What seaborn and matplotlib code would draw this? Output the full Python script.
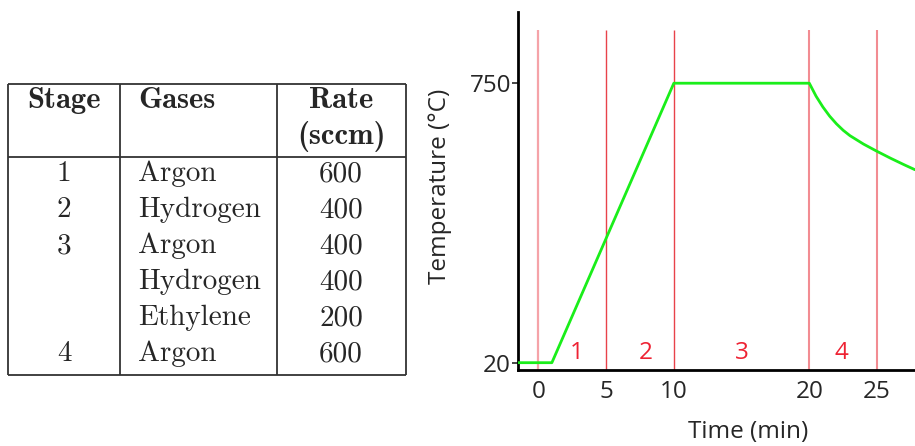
import matplotlib
matplotlib.use("Agg")
import matplotlib.pyplot as plt
import seaborn as sns
import pandas as pd

# ---------------- data ----------------
stage_col = ["1", "2", "3", "", "", "4"]
gas_col = ["Argon", "Hydrogen", "Argon", "Hydrogen", "Ethylene", "Argon"]
rate_col = ["600", "400", "400", "400", "200", "600"]
headers = ["Stage", "Gases", "Rate\n(sccm)"]

time_min = [-1.5, 1.0, 10.0, 20.0, 20.5, 21.0, 21.5, 22.0, 22.5, 23.0,
            24.0, 25.0, 26.0, 27.0, 27.8]
temp_c = [20, 20, 750, 750, 716, 688, 664, 644, 627, 613,
          591, 572, 554, 537, 524]

stage_bounds = [0, 5, 10, 20, 25]
stage_labels = ["1", "2", "3", "4"]
stage_label_x = [2.8, 7.9, 15.0, 22.4]
xticks = [0, 5, 10, 20, 25]
yticks = [20, 750]

sns.set_style("white")
plt.rcParams["font.family"] = ["Open Sans", "DejaVu Sans"]

W, H = 915, 446
fig = plt.figure(figsize=(W / 100, H / 100), dpi=100)

# ---------------- table ----------------
tax = fig.add_axes([0, 0, 1, 1])
tax.set_xlim(0, W)
tax.set_ylim(H, 0)
tax.axis("off")
lc = "#333333"
lw = 1.3
x0, x1, x2, x3 = 8, 120, 277, 406
y0, yh, y1 = 84, 157, 375
for xx in (x0, x1, x2, x3):
    tax.plot([xx, xx], [y0, y1], color=lc, lw=lw, solid_capstyle="butt")
for yy in (y0, yh, y1):
    tax.plot([x0, x3], [yy, yy], color=lc, lw=lw, solid_capstyle="butt")

fs_t = 21
fs_h = 22
tax.text((x0 + x1) / 2, 101, headers[0], ha="center", va="center",
         family="cmb10", fontsize=fs_h)
tax.text(138, 101, headers[1], ha="left", va="center", family="cmb10", fontsize=fs_h)
r1, r2 = headers[2].split("\n")
tax.text(341, 101, r1, ha="center", va="center", family="cmb10", fontsize=fs_h)
tax.text(341, 137, r2, ha="center", va="center", family="cmb10", fontsize=fs_h)
for i, (s, g, r) in enumerate(zip(stage_col, gas_col, rate_col)):
    yy = 174 + 36 * i
    tax.text((x0 + x1) / 2, yy, s, ha="center", va="center", family="cmr10", fontsize=fs_t)
    tax.text(138, yy, g, ha="left", va="center", family="cmr10", fontsize=fs_t)
    tax.text(341, yy, r, ha="center", va="center", family="cmr10", fontsize=fs_t)

# ---------------- chart ----------------
ax = fig.add_axes([518 / W, (H - 370) / H, (W - 518) / W, (370 - 12) / H])
ax.set_xlim(-1.5, 27.8)
ax.set_ylim(0.9, 936)

line_colors = ["#f5a3a8", "#e8424a", "#e8424a", "#f28c92", "#f28c92"]
line_widths = [1.6, 1.0, 1.0, 1.5, 1.5]
for xb, c, w in zip(stage_bounds, line_colors, line_widths):
    ax.vlines(xb, 0.9, 889, color=c, lw=w, zorder=1)

df = pd.DataFrame({"t": time_min, "T": temp_c})
sns.lineplot(data=df, x="t", y="T", ax=ax, color="#1aee1a", lw=2.0, zorder=3)

fs_c = 17.5
for lab, xl in zip(stage_labels, stage_label_x):
    ax.text(xl, 46, lab, color="#ee2233", fontsize=fs_c, ha="center", va="center")

ax.set_xticks(xticks)
ax.set_yticks(yticks)
ax.tick_params(axis="x", length=0, labelsize=fs_c, pad=7)
ax.tick_params(axis="y", length=4, width=1.2, labelsize=fs_c, pad=1, direction="out", left=True)
for sp in ("top", "right"):
    ax.spines[sp].set_visible(False)
for sp in ("left", "bottom"):
    ax.spines[sp].set_linewidth(2)
    ax.spines[sp].set_color("black")

ax.set_xlabel("Time (min)", fontsize=fs_c)
ax.set_ylabel("Temperature (°C)", fontsize=fs_c)
ax.xaxis.set_label_coords(0.58, -0.14)
ax.yaxis.set_label_coords(-0.165, 0.514)

fig.savefig("out.png", dpi=100)
